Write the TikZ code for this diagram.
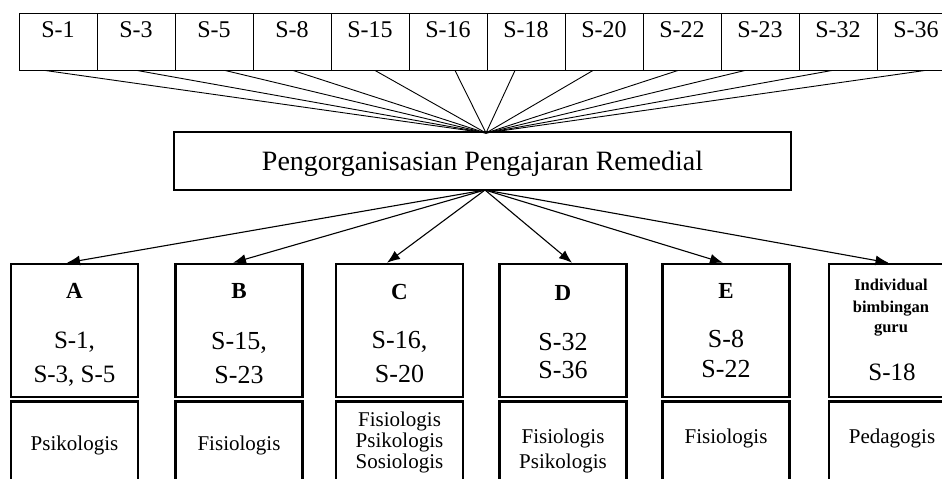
\documentclass[tikz,border=0pt]{standalone}
\usepackage{fontspec}
\setmainfont{Liberation Serif}
\usetikzlibrary{arrows.meta}
\begin{document}
\begin{tikzpicture}[x=1pt,y=-1pt,
  topbox/.style={draw, line width=0.9pt, minimum width=78pt, minimum height=57pt, inner sep=0pt},
  toptxt/.style={anchor=base, inner sep=0pt, font=\fontsize{24}{28}\selectfont},
  midbox/.style={draw, line width=2.6pt, minimum width=617pt, minimum height=58pt, inner sep=0pt},
  midtxt/.style={anchor=base, inner sep=0pt, font=\fontsize{28}{32}\selectfont},
  upbox/.style={draw, line width=2.5pt, minimum width=127pt, minimum height=133pt, inner sep=0pt},
  lowbox/.style={draw, line width=2.5pt, minimum width=127pt, minimum height=108pt, inner sep=0pt},
  lettxt/.style={anchor=base, inner sep=0pt, font=\bfseries\fontsize{23}{27}\selectfont},
  numtxt/.style={anchor=base, inner sep=0pt, font=\fontsize{26}{30}\selectfont},
  smnumtxt/.style={anchor=base, inner sep=0pt, font=\fontsize{25}{29}\selectfont},
  cattxt/.style={anchor=base, inner sep=0pt, font=\fontsize{21}{25}\selectfont},
  indtxt/.style={anchor=base, inner sep=0pt, font=\bfseries\fontsize{16.5}{20}\selectfont},
  conn/.style={draw, line width=0.9pt},
  arr/.style={draw, line width=1.1pt, -{Latex[length=13pt,width=10pt]}}]
\clip (0,0) rectangle (942,479);
\fill[white] (0,0) rectangle (942,479);
% top row
\foreach \i/\t [count=\k from 0] in {1/S-1,2/S-3,3/S-5,4/S-8,5/S-15,6/S-16,7/S-18,8/S-20,9/S-22,10/S-23,11/S-32,12/S-36}{
  \node[topbox] (t\i) at ({58+78*\k},41.5) {};
  \node[toptxt] (tl\i) at ({58+78*\k},37) {\t};
}
% middle
\node[midbox] (mid) at (482.5,161) {};
\node[midtxt] (midl) at (482.5,170) {Pengorganisasian Pengajaran Remedial};
\coordinate (conv) at (486,133);
\coordinate (src) at (485,190);
% converging lines
\foreach \i/\s in {1/-13,2/1,3/11,4/1,5/5,6/7,7/-11,8/-11,9/-4,10/-15,11/-6,12/9}{
  \draw[conn] ([xshift=\s pt]t\i.south) -- (conv);
}
% bottom boxes
\foreach \n/\x in {A/74.5,B/239,C/399.5,D/563,E/726,F/892.5}{
  \node[upbox] (u\n) at (\x,330.5) {};
  \node[lowbox] (w\n) at (\x,455.5) {};
}
% arrows
\draw[arr] (src) -- ([xshift=-7.5pt]uA.north);
\draw[arr] (src) -- ([xshift=-6pt]uB.north);
\draw[arr] (src) -- ([xshift=-12.5pt]uC.north);
\draw[arr] (src) -- ([xshift=9pt]uD.north);
\draw[arr] (src) -- ([xshift=-3pt]uE.north);
\draw[arr] (src) -- ([xshift=-4pt]uF.north);
% A
\node[lettxt] (a1) at (74.5,298) {A};
\node[smnumtxt] (a2) at (74.5,348) {S-1,};
\node[smnumtxt] (a3) at (74.5,382) {S-3, S-5};
\node[cattxt] (a4) at (74.5,450) {Psikologis};
% B
\node[lettxt] (b1) at (239,298) {B};
\node[numtxt] (b2) at (239,349) {S-15,};
\node[numtxt] (b3) at (239,383) {S-23};
\node[cattxt] (b4) at (239,450) {Fisiologis};
% C
\node[lettxt] (c1) at (399.5,299) {C};
\node[numtxt] (c2) at (399.5,348) {S-16,};
\node[numtxt] (c3) at (399.5,382) {S-20};
\node[cattxt] (c4) at (399.5,426) {Fisiologis};
\node[cattxt] (c5) at (399.5,447) {Psikologis};
\node[cattxt] (c6) at (399.5,468) {Sosiologis};
% D
\node[lettxt] (d1) at (563,300) {D};
\node[numtxt] (d2) at (563,350) {S-32};
\node[numtxt] (d3) at (563,378) {S-36};
\node[cattxt] (d4) at (563,443) {Fisiologis};
\node[cattxt] (d5) at (563,468) {Psikologis};
% E
\node[lettxt] (e1) at (726,298) {E};
\node[numtxt] (e2) at (726,347) {S-8};
\node[numtxt] (e3) at (726,377) {S-22};
\node[cattxt] (e4) at (726,443) {Fisiologis};
% F
\node[indtxt] (f1) at (891,290) {Individual};
\node[indtxt] (f2) at (891,312) {bimbingan};
\node[indtxt] (f3) at (891,332) {guru};
\node[smnumtxt] (f4) at (892,380) {S-18};
\node[cattxt] (f5) at (892,443) {Pedagogis};
\end{tikzpicture}
\end{document}
